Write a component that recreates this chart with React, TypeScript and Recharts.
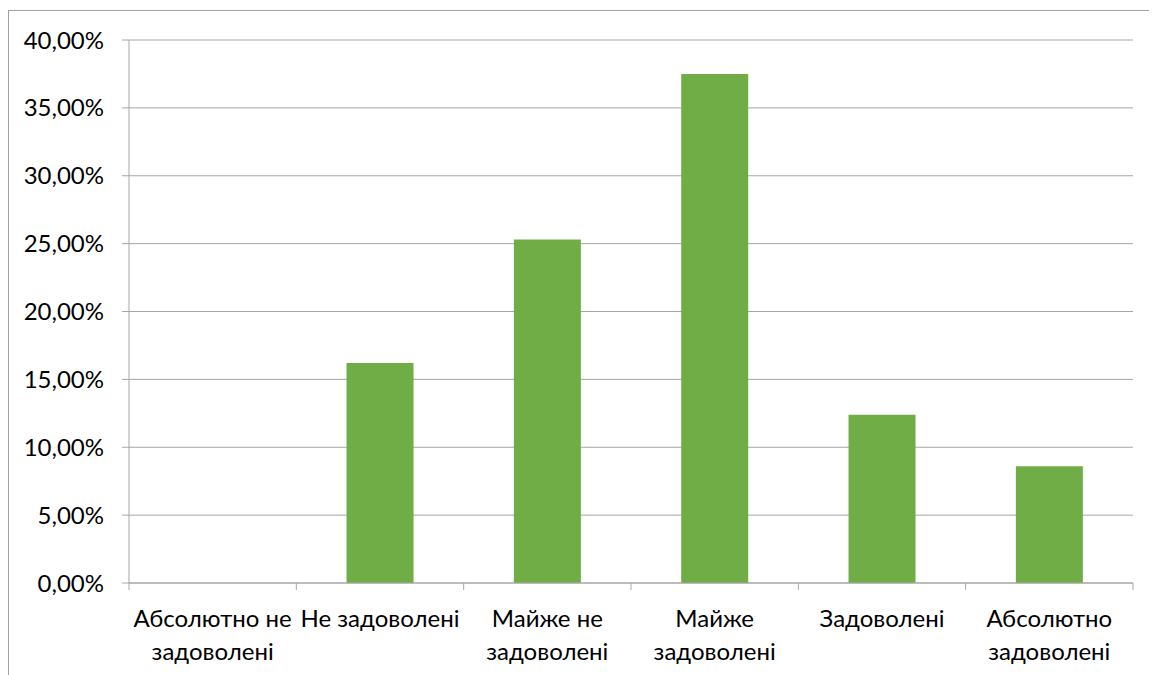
import React from "react";
import { BarChart, Bar, XAxis, YAxis, CartesianGrid } from "recharts";

const categories = [
  "Абсолютно не\nзадоволені",
  "Не задоволені",
  "Майже не\nзадоволені",
  "Майже\nзадоволені",
  "Задоволені",
  "Абсолютно\nзадоволені",
];
const values = [0, 16.2, 25.3, 37.5, 12.4, 8.6];
const yTicks = [0, 5, 10, 15, 20, 25, 30, 35, 40];

const data = categories.map((c, i) => ({ name: c, value: values[i] }));

const FONT = "Lato, 'Open Sans', sans-serif";
const FS = 24;
const GRID = "#a6a6a6";

const fmt = (v: number) => `${v.toFixed(2).replace(".", ",")}%`;

const XTick = (props: any) => {
  const { x, y, payload, index } = props;
  const half = payload.offset || 0;
  const lines = String(payload.value).split("\n");
  return (
    <g>
      <line x1={x - half} x2={x - half} y1={y} y2={y + 7} stroke={GRID} strokeWidth={1} />
      {index === categories.length - 1 && (
        <line x1={x + half} x2={x + half} y1={y} y2={y + 7} stroke={GRID} strokeWidth={1} />
      )}
      {lines.map((l, i) => (
        <text
          key={i}
          x={x}
          y={y + 34 + i * 33}
          textAnchor="middle"
          dominantBaseline="central"
          fontSize={FS}
          fontFamily={FONT}
          fill="#000"
        >
          {l}
        </text>
      ))}
    </g>
  );
};

export default function App() {
  return (
    <div
      style={{
        marginTop: 2,
        width: 1160,
        height: 680,
        borderLeft: "1px solid #a0a0a0",
        borderTop: "1px solid #a0a0a0",
        background: "#fff",
        overflow: "hidden",
      }}
    >
      <BarChart
        width={1160}
        height={680}
        data={data}
        margin={{ top: 29, right: 36, left: 0, bottom: 8 }}
        barCategoryGap="30%"
      >
        <CartesianGrid vertical={false} stroke={GRID} strokeWidth={1} />
        <XAxis
          dataKey="name"
          axisLine={{ stroke: GRID }}
          tickLine={false}
          tickSize={0}
          tickMargin={0}
          tick={<XTick />}
          interval={0}
          height={100}
        />
        <YAxis
          domain={[0, 40]}
          ticks={yTicks}
          tickFormatter={fmt}
          width={120}
          axisLine={{ stroke: GRID }}
          tickLine={{ stroke: GRID }}
          tickSize={7}
          tickMargin={18}
          interval={0}
          tick={{ fontSize: FS, fontFamily: FONT, fill: "#000" }}
        />
        <Bar dataKey="value" fill="#70ad47" isAnimationActive={false} />
      </BarChart>
    </div>
  );
}
